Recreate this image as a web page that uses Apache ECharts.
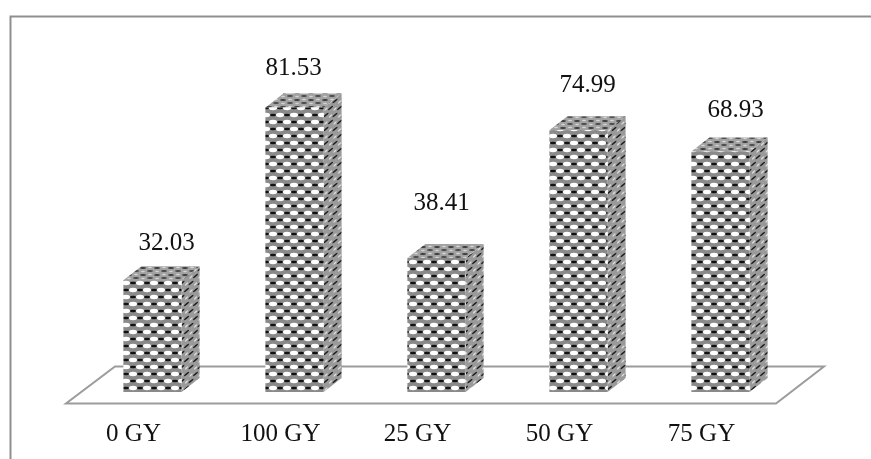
<!DOCTYPE html>
<html>
<head>
<meta charset="utf-8">
<style>html,body{margin:0;padding:0;background:#fff}#chart{width:871px;height:459px}</style>
<script src="https://cdn.jsdelivr.net/npm/echarts@6/dist/echarts.min.js"></script>
</head>
<body>
<div id="chart"></div>
<script>
// Dose groups and their measured values
const categories = ['0 GY', '100 GY', '25 GY', '50 GY', '75 GY'];
const values = [32.03, 81.53, 38.41, 74.99, 68.93];
// Hand placement of each value label relative to its column top: [dx, dy]
const labelNudges = [[14, -37], [-1, -39], [5, -55], [9, -45], [15, -41]];
// Sideways shift of each category label
const tickNudges = [0, 10, 0, 0, 0];

const DEPTH_X = 18, DEPTH_Y = 14, BAR_SHIFT = 19, LINE = '#969696';

// Builds a repeating woven tile; ellipses are [x, y, rx, ry, colour]
function tile(w, h, base, shear, marks) {
  const c = document.createElement('canvas');
  c.width = w; c.height = h;
  const g = c.getContext('2d');
  g.fillStyle = base;
  g.fillRect(0, 0, w, h);
  g.filter = 'blur(0.5px)';
  for (const [x, y, rx, ry, col] of marks) {
    for (const ox of [-w, 0, w]) for (const oy of [-h, 0, h]) {
      g.save();
      g.translate(x + ox, y + oy);
      g.transform(1, shear, 0, 1, 0, 0);
      g.fillStyle = col;
      g.beginPath();
      g.ellipse(0, 0, rx, ry, 0, 0, Math.PI * 2);
      g.fill();
      g.restore();
    }
  }
  return { image: c, repeat: 'repeat' };
}

const frontFill = tile(14, 14, '#8a8a8a', 0, [
  [0, 3, 4, 2.2, '#ffffff'], [7, 10, 4, 2.2, '#ffffff'],
  [7, 3, 3, 1.3, '#111111'], [0, 10, 3, 1.3, '#111111']
]);
const sideFill = tile(9, 14, '#9a9a9a', -0.78, [
  [2, 3, 2.6, 1, '#1c1c1c'], [6.5, 10, 2.6, 1, '#1c1c1c'],
  [6.5, 4, 1.6, 1, '#dddddd'], [2, 11, 1.6, 1, '#dddddd']
]);
const topFill = tile(14, 7, '#a2a2a2', 0, [
  [3, 2, 3, 0.9, '#3c3c3c'], [10, 5, 3, 0.9, '#4a4a4a'],
  [10, 1.5, 2, 0.8, '#d8d8d8'], [3, 5.5, 2, 0.8, '#d4d4d4']
]);

function renderColumn(params, api) {
  const i = api.value(0);
  const v = api.value(1);
  const top = api.coord([i, v]);
  const base = api.coord([i, 0]);
  const w = api.size([1, 0])[0] * 0.41;
  const x0 = top[0] + BAR_SHIFT - w / 2;
  const x1 = x0 + w;
  const yT = top[1], yB = base[1];
  const n = labelNudges[i];
  return {
    type: 'group',
    children: [
      { type: 'polygon', shape: { points: [[x1, yT], [x1 + DEPTH_X, yT - DEPTH_Y], [x1 + DEPTH_X, yB - DEPTH_Y], [x1, yB]] }, style: { fill: sideFill } },
      { type: 'polygon', shape: { points: [[x0, yT], [x0 + DEPTH_X, yT - DEPTH_Y], [x1 + DEPTH_X, yT - DEPTH_Y], [x1, yT]] }, style: { fill: topFill } },
      { type: 'rect', shape: { x: x0, y: yT, width: w, height: yB - yT }, style: { fill: frontFill } },
      { type: 'text', style: {
          text: v.toFixed(2), x: x0 + w / 2 + n[0], y: yT + n[1],
          align: 'center', verticalAlign: 'middle',
          font: '25px "Liberation Serif"', fill: '#111'
      } }
    ]
  };
}

const chart = echarts.init(document.getElementById('chart'), null, { renderer: 'canvas' });
chart.setOption({
  animation: false,
  backgroundColor: '#ffffff',
  grid: { left: 62.5, width: 710, top: 43, height: 349 },
  xAxis: {
    type: 'category',
    data: categories.map((c, i) => ({ value: c, textStyle: { padding: [0, 0, 0, tickNudges[i]] } })),
    axisLine: { show: false },
    axisTick: { show: false },
    axisLabel: { margin: 30, fontFamily: 'Liberation Serif', fontSize: 25, color: '#111' }
  },
  yAxis: { type: 'value', min: 0, max: 100, show: false },
  graphic: [
    { type: 'polyline', z: -1, shape: { points: [[10.5, 459], [10.5, 16.5], [871, 16.5]] }, style: { stroke: '#8f8f8f', lineWidth: 2, fill: null } },
    { type: 'polygon', z: -1, shape: { points: [[66, 403.5], [776, 403.5], [824, 366.5], [115, 366.5]] }, style: { stroke: '#9c9c9c', lineWidth: 2, fill: '#fff' } }
  ],
  series: [{
    type: 'custom',
    renderItem: renderColumn,
    encode: { x: 0, y: 1 },
    data: values.map((v, i) => [i, v])
  }]
});
</script>
</body>
</html>
